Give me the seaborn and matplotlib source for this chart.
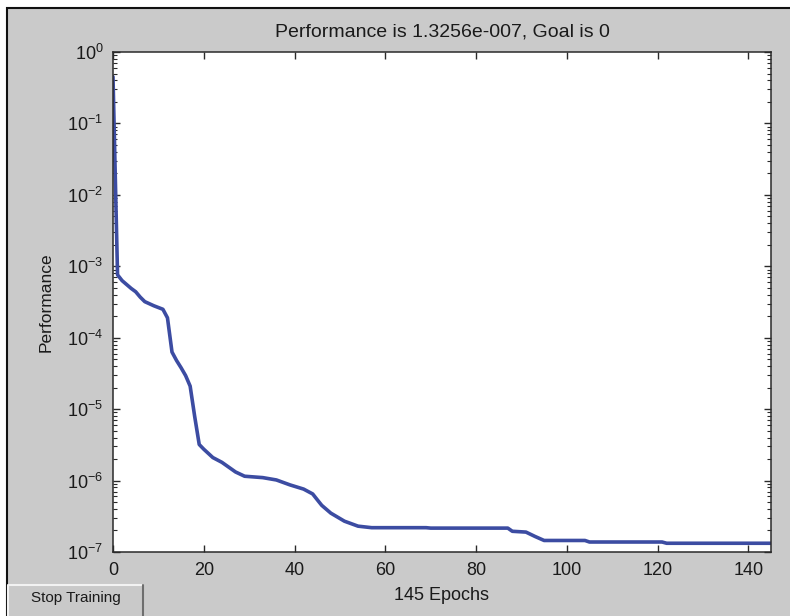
import matplotlib
matplotlib.use("Agg")
import matplotlib.pyplot as plt
from matplotlib.patches import Rectangle
from matplotlib.ticker import LogLocator, LogFormatterMathtext, NullFormatter
import seaborn as sns
import pandas as pd

# ---- data ----
epochs = [0, 1, 2, 4, 5, 6, 7, 9, 11, 12, 13, 14, 15, 16, 17, 18, 19, 20, 22,
          24, 27, 29, 33, 36, 39, 42, 44, 45, 46, 48, 51, 54, 57, 69, 70, 87,
          88, 91, 93, 95, 104, 105, 121, 122, 145]
performance = [0.45, 7.6e-4, 6.3e-4, 4.9e-4, 4.4e-4, 3.7e-4, 3.2e-4, 2.8e-4,
               2.5e-4, 1.9e-4, 6.3e-5, 4.8e-5, 3.8e-5, 2.95e-5, 2.1e-5, 7.9e-6,
               3.2e-6, 2.75e-6, 2.1e-6, 1.8e-6, 1.32e-6, 1.15e-6, 1.1e-6,
               1.02e-6, 8.7e-7, 7.6e-7, 6.5e-7, 5.4e-7, 4.5e-7, 3.5e-7, 2.7e-7,
               2.3e-7, 2.19e-7, 2.19e-7, 2.16e-7, 2.16e-7, 1.95e-7, 1.9e-7,
               1.65e-7, 1.45e-7, 1.45e-7, 1.38e-7, 1.38e-7, 1.3256e-7, 1.3256e-7]
x_ticks = [0, 20, 40, 60, 80, 100, 120, 140]
title_text = "Performance is 1.3256e-007, Goal is 0"
x_label = "145 Epochs"
y_label = "Performance"
button_text = "Stop Training"

df = pd.DataFrame({"Epoch": epochs, "Performance": performance})

sns.set_style("ticks")
plt.rcParams["font.family"] = ["Liberation Sans", "DejaVu Sans"]
plt.rcParams["mathtext.fontset"] = "custom"
plt.rcParams["mathtext.rm"] = "Liberation Sans"

W, H = 790, 616
fig = plt.figure(figsize=(W / 100, H / 100), dpi=100, facecolor="white")

# gray window background with black frame (top/left visible)
bg = Rectangle((7 / W, -0.05), 1.1, (H - 8) / H + 0.05,
               transform=fig.transFigure, facecolor="#cacaca",
               edgecolor="#111111", linewidth=1.5, zorder=-10)
fig.patches.append(bg)

ax = fig.add_axes([113 / W, 1 - 552 / H, (771 - 113) / W, (552 - 52) / H])
ax.set_zorder(5)
ax.set_facecolor("white")

sns.lineplot(data=df, x="Epoch", y="Performance", ax=ax, color="#3c4ca2",
             linewidth=2.6, estimator=None, sort=False)

ax.set_yscale("log")
ax.set_xlim(0, 145)
ax.set_ylim(1e-7, 1)
ax.set_xticks(x_ticks)
ax.yaxis.set_major_locator(LogLocator(base=10, numticks=20))
ax.yaxis.set_major_formatter(LogFormatterMathtext())
ax.yaxis.set_minor_locator(LogLocator(base=10, subs=range(2, 10), numticks=20))
ax.yaxis.set_minor_formatter(NullFormatter())

for s in ax.spines.values():
    s.set_visible(True)
    s.set_color("#2a2a2a")
    s.set_linewidth(1.1)

ax.tick_params(which="major", direction="in", length=5, width=1,
               color="#2a2a2a", top=True, right=True, labelsize=13,
               labelcolor="#1a1a1a", pad=7)
ax.tick_params(which="minor", direction="in", length=3, width=0.8,
               color="#2a2a2a", top=True, right=True)
ax.tick_params(axis="x", which="minor", bottom=False, top=False)

ax.set_title(title_text, fontsize=14, color="#1a1a1a", pad=11)
ax.set_xlabel(x_label, fontsize=13, color="#1a1a1a")
ax.set_ylabel(y_label, fontsize=12.5, color="#1a1a1a")
ax.xaxis.set_label_coords(0.5, -0.07)
ax.yaxis.set_label_coords(-0.09, 0.5)

# "Stop Training" button
bx0, by0, bx1, by1 = 8, 585, 143, 616
fig.patches.append(Rectangle((bx0 / W, 1 - by1 / H), (bx1 - bx0) / W,
                             (by1 - by0) / H, transform=fig.transFigure,
                             facecolor="#c9c9c9", edgecolor="none", zorder=1))
fig.lines.append(plt.Line2D([bx0 / W, bx0 / W, bx1 / W], [0, 1 - by0 / H, 1 - by0 / H],
                            transform=fig.transFigure, color="#f2f2f2", lw=1.5, zorder=2))
fig.lines.append(plt.Line2D([bx1 / W, bx1 / W], [1 - by0 / H, 0],
                            transform=fig.transFigure, color="#6e6e6e", lw=1.5, zorder=2))
fig.text((bx0 + bx1) / 2 / W, 1 - 598 / H, button_text, ha="center", va="center",
         fontsize=11, color="#1a1a1a", zorder=3)

fig.savefig("out.png", dpi=100, facecolor=fig.get_facecolor())
